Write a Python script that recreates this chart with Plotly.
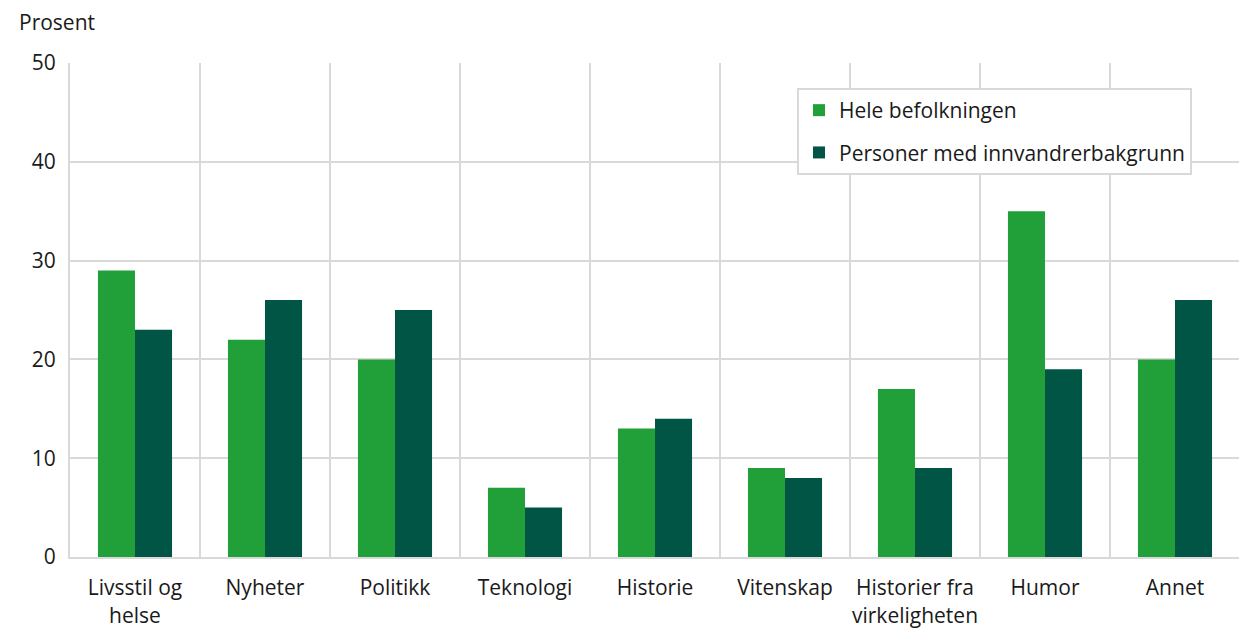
import plotly.graph_objects as go

categories = ["Livsstil og<br>helse", "Nyheter", "Politikk", "Teknologi", "Historie",
              "Vitenskap", "Historier fra<br>virkeligheten", "Humor", "Annet"]
hele = [29, 22, 20, 7, 13, 9, 17, 35, 20]
innv = [23, 26, 25, 5, 14, 8, 9, 19, 26]
series_names = ["Hele befolkningen", "Personer med innvandrerbakgrunn"]
y_ticks = [0, 10, 20, 30, 40, 50]

pos = list(range(len(categories)))
GRID = "#d9d9d9"
FONT = "Open Sans"
PW = 1170  # plot-area width in px

fig = go.Figure()
fig.add_trace(go.Bar(x=pos, y=hele, name=series_names[0], marker=dict(color="#21a03a", line=dict(width=0)),
                     legendgroup="a"))
fig.add_trace(go.Bar(x=pos, y=innv, name=series_names[1], marker=dict(color="#005545", line=dict(width=0)),
                     legendgroup="b"))

fig.update_layout(
    width=70 + PW, height=644,
    margin=dict(l=70, r=0, t=63, b=87),
    paper_bgcolor="white", plot_bgcolor="white",
    font=dict(family=FONT, size=21, color="#1a1a1a"),
    barmode="group", bargap=0.43, bargroupgap=0,
    legend=dict(x=(797 - 70) / PW, y=(557 - 88) / 494, xanchor="left", yanchor="top",
                bordercolor=GRID, borderwidth=2, bgcolor="white",
                traceorder="grouped", tracegroupgap=12,
                font=dict(size=21)),
    xaxis=dict(range=[-0.5, len(categories) - 0.5], tickvals=pos, ticktext=categories,
               showgrid=False, showline=True, mirror=False, linecolor=GRID, linewidth=2,
               ticks="", ticklabelstandoff=11,
               minor=dict(tick0=-0.5, dtick=1, showgrid=True, gridcolor=GRID, gridwidth=2),
               zeroline=False),
    yaxis=dict(range=[0, 50], tickvals=y_ticks, showgrid=True, gridcolor=GRID, gridwidth=2,
               showline=True, mirror=False, linecolor=GRID, linewidth=2, zeroline=False,
               ticks="", ticklabelstandoff=8),
    annotations=[dict(text="Prosent", xref="paper", yref="paper", x=(17 - 70) / PW, y=(557 - 22) / 494,
                      xanchor="left", yanchor="middle", showarrow=False, font=dict(size=21))],
)

fig.write_html("out.html", config={"displayModeBar": False},
               post_script="document.body.style.margin='0';document.body.style.overflow='hidden';")
